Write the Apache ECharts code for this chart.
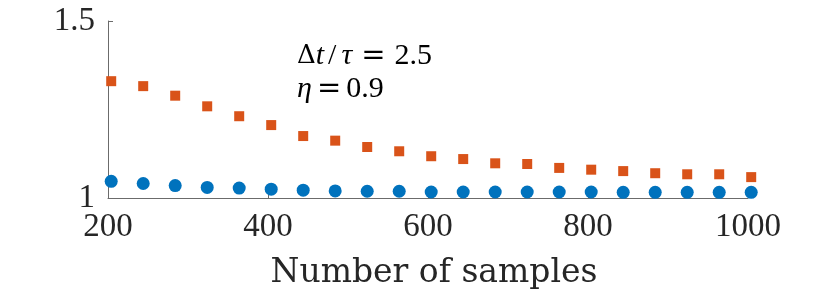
<!DOCTYPE html>
<html>
<head>
<meta charset="utf-8">
<script src="https://cdn.jsdelivr.net/npm/echarts@6/dist/echarts.min.js"></script>
<style>
html,body{margin:0;padding:0;background:#fff;}
#c{width:830px;height:298px;}
</style>
</head>
<body>
<div id="c"></div>
<script>
const xSamples = [204, 244, 284, 324, 364, 404, 444, 484, 524, 564, 604, 644, 684, 724, 764, 804, 844, 884, 924, 964, 1004];
const orangeVals = [1.330, 1.316, 1.289, 1.259, 1.231, 1.206, 1.175, 1.162, 1.144, 1.132, 1.118, 1.110, 1.098, 1.096, 1.085, 1.080, 1.076, 1.070, 1.067, 1.067, 1.059];
const blueVals = [1.047, 1.041, 1.035, 1.030, 1.028, 1.025, 1.022, 1.020, 1.019, 1.019, 1.017, 1.017, 1.017, 1.017, 1.017, 1.017, 1.016, 1.016, 1.016, 1.016, 1.016];
const xTicks = [200, 400, 600, 800, 1000];
const yTicks = [1, 1.5];
const xLabel = 'Number of samples';

const FONT = '"Liberation Serif", "DejaVu Serif", serif';
const NAMEFONT = '"DejaVu Serif", "Liberation Serif", serif';
const axisColor = '#6b6b6b';
const textColor = '#262626';

const mathRich = {
  r: {fontFamily: FONT, fontSize: 30, fill: '#000'},
  i: {fontFamily: FONT, fontSize: 30, fontStyle: 'italic', fill: '#000'},
  sl: {fontFamily: FONT, fontSize: 30, fill: '#000', padding: [0, 5, 0, 4]},
  d: {fontFamily: NAMEFONT, fontSize: 26, fill: '#000'},
  eq: {fontFamily: NAMEFONT, fontSize: 29, fill: '#000', padding: [0, 9]},
  eq2: {fontFamily: NAMEFONT, fontSize: 29, fill: '#000', padding: [0, 5]}
};

const chart = echarts.init(document.getElementById('c'), null, {renderer: 'canvas'});
chart.setOption({
  animation: false,
  backgroundColor: '#ffffff',
  grid: {left: 108, right: 82, top: 21, bottom: 100, containLabel: false},
  xAxis: {
    type: 'value',
    min: xTicks[0], max: xTicks[xTicks.length - 1], interval: 200,
    name: xLabel,
    nameLocation: 'middle',
    nameGap: 59,
    nameTextStyle: {fontFamily: NAMEFONT, fontSize: 33, color: textColor, padding: [0, 0, 0, 12]},
    axisLine: {show: true, lineStyle: {color: axisColor, width: 1}},
    axisTick: {show: true, inside: true, length: 5, lineStyle: {color: axisColor}},
    axisLabel: {fontFamily: FONT, fontSize: 33, color: textColor, margin: 13,
      formatter: v => String(v)},
    splitLine: {show: false}
  },
  yAxis: {
    type: 'value',
    min: yTicks[0], max: yTicks[1], interval: 0.5,
    axisLine: {show: true, lineStyle: {color: axisColor, width: 1}},
    axisTick: {show: true, inside: true, length: 5, lineStyle: {color: axisColor}},
    axisLabel: {fontFamily: FONT, fontSize: 33, color: textColor, margin: 13,
      formatter: v => String(v)},
    splitLine: {show: false}
  },
  series: [
    {
      type: 'scatter',
      clip: false,
      symbol: 'rect',
      symbolSize: 10,
      itemStyle: {color: '#D95319', opacity: 1},
      data: xSamples.map((x, i) => [x, orangeVals[i]])
    },
    {
      type: 'scatter',
      clip: false,
      symbol: 'circle',
      symbolSize: 13,
      itemStyle: {color: '#0072BD', opacity: 1},
      data: xSamples.map((x, i) => [x, blueVals[i]])
    }
  ],
  graphic: [
    {
      type: 'text',
      left: 297, top: 41,
      style: {
        text: '{d|Δ}{i|t}{sl|/}{i|τ}{eq|=}{r|2.5}',
        rich: mathRich
      }
    },
    {
      type: 'text',
      left: 297, top: 74,
      style: {
        text: '{i|η}{eq2|=}{r|0.9}',
        rich: mathRich
      }
    }
  ]
});
</script>
</body>
</html>
